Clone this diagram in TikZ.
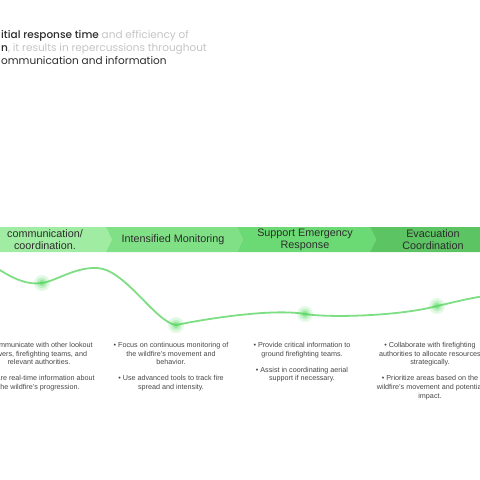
\documentclass[tikz,border=0pt]{standalone}
\usepackage{fontspec}
\setmainfont{Liberation Sans}
\newfontfamily\headfont{Poppins}[BoldFont={Poppins Medium}]
\usetikzlibrary{positioning}
\definecolor{FaseA}{RGB}{160,236,162}
\definecolor{FaseB}{RGB}{128,224,134}
\definecolor{FaseC}{RGB}{108,218,116}
\definecolor{FaseD}{RGB}{92,196,98}
\definecolor{CurvaVerde}{RGB}{125,222,132}
\definecolor{BrilhoVerde}{RGB}{80,214,92}
\definecolor{TextoEscuro}{RGB}{45,45,45}
\definecolor{TextoCorpo}{RGB}{70,70,70}
\definecolor{TextoCinza}{RGB}{196,196,196}
\tikzset{
  rotulofase/.style={font=\fontsize{10.8}{12.2}\selectfont, text=TextoEscuro, align=center, inner sep=0pt},
  topicos/.style={font=\fontsize{7.2}{8.7}\selectfont, text=TextoCorpo, align=center, inner sep=0pt},
  titulo/.style={font=\headfont\fontsize{10.5}{13}\selectfont, text=TextoEscuro, align=left, inner sep=0pt},
  curva/.style={line width=1.8pt, CurvaVerde, line cap=round},
}
\begin{document}
\begin{tikzpicture}[x=1pt, y=-1pt]
  \clip (0,0) rectangle (480,480);

  % --- Texto de abertura -------------------------------------------------------
  \node[titulo, anchor=north west] (intro) at (1,30.5)
    {\textbf{itial response time} \textcolor{TextoCinza}{and efficiency of}\\
     \textbf{n}\textcolor{TextoCinza}{, it results in repercussions throughout}\\
     ommunication and information};

  % --- Faixa de fases ---------------------------------------------------------
  \foreach \xa/\xb/\cor in {-20/106/FaseA, 106/237/FaseB, 237/370/FaseC, 370/500/FaseD}
    \fill[\cor] (\xa,227) -- (\xb,227) -- (\xb+6,239.5) -- (\xb,252) -- (\xa,252) -- (\xa+6,239.5) -- cycle;

  \node[rotulofase] (fase1) at (45,239.5) {communication/\\coordination.};
  \node[rotulofase] (fase2) at (173,239.5) {Intensified Monitoring};
  \node[rotulofase] (fase3) at (305,239.5) {Support Emergency\\Response};
  \node[rotulofase] (fase4) at (433,239.5) {Evacuation\\Coordination};

  % --- Curva com os marcos ----------------------------------------------------
  \coordinate (inicio) at (-5,267);
  \coordinate (m1) at (42,283);
  \coordinate (topo) at (97,268);
  \coordinate (m2) at (176,325);
  \coordinate (m3) at (305,314);
  \coordinate (m4) at (437,306);
  \coordinate (fim) at (485,296);

  \draw[curva] (inicio) .. controls (15,280) and (28,285) .. (m1)
    .. controls (56,281) and (75,267) .. (topo)
    .. controls (125,269) and (155,322) .. (m2)
    .. controls (200,320) and (270,308) .. (m3)
    .. controls (330,318) and (400,316) .. (m4)
    .. controls (455,302) and (470,298) .. (fim);

  \foreach \m in {m1,m2,m3,m4} {
    \fill[BrilhoVerde, opacity=.16] (\m) circle (8pt);
    \fill[BrilhoVerde, opacity=.25] (\m) circle (5.5pt);
    \fill[BrilhoVerde, opacity=.4] (\m) circle (3pt);
  }

  % --- Topicos de cada fase ---------------------------------------------------
  \node[topicos, anchor=north] (topicos1) at (39,342)
    {• Communicate with other lookout\\towers, firefighting teams, and\\relevant authorities.\\[7.4pt]
     • Share real-time information about\\the wildfire's progression.};
  \node[topicos, anchor=north] (topicos2) at (171,342)
    {• Focus on continuous monitoring of\\the wildfire's movement and\\behavior.\\[7.4pt]
     • Use advanced tools to track fire\\spread and intensity.};
  \node[topicos, anchor=north] (topicos3) at (302,342)
    {• Provide critical information to\\ground firefighting teams.\\[7.4pt]
     • Assist in coordinating aerial\\support if necessary.};
  \node[topicos, anchor=north] (topicos4) at (430,342)
    {• Collaborate with firefighting\\authorities to allocate resources\\strategically.\\[7.4pt]
     • Prioritize areas based on the\\wildfire's movement and potential\\impact.};
\end{tikzpicture}
\end{document}
